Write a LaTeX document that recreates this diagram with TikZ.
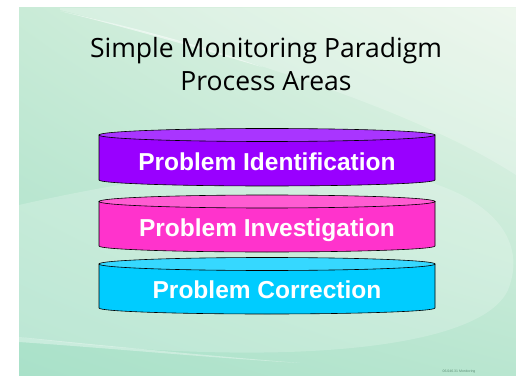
\documentclass[tikz,border=0pt]{standalone}
\usepackage{fontspec}
\setmainfont{Liberation Sans}
\newfontfamily\titlefont{Open Sans}
\usetikzlibrary{positioning, shadings}

\definecolor{slidedark}{HTML}{A9E1C9}
\definecolor{slidelight}{HTML}{E9F5E9}
\definecolor{slidemidA}{HTML}{C9EBD7}
\definecolor{slidemidB}{HTML}{B9E6D0}
\definecolor{idbody}{HTML}{9900FF}
\definecolor{idtop}{HTML}{A935FF}
\definecolor{invbody}{HTML}{FF33CC}
\definecolor{invtop}{HTML}{FF5CD2}
\definecolor{corbody}{HTML}{00CCFF}
\definecolor{cortop}{HTML}{36D8FF}
\definecolor{footgray}{HTML}{5E8E76}

\begin{document}
\begin{tikzpicture}[
    x=1pt, y=1pt,
    % disk outline
    diskline/.style={
        draw=black,
        line width=0.6pt
    },
    % white label on a disk
    disklabel/.style={
        anchor=base,
        text=white,
        font=\fontsize{24.5}{26}\selectfont\bfseries,
        inner sep=0pt
    },
    titletext/.style={
        anchor=base,
        font=\titlefont\fontsize{26.5}{28}\selectfont,
        inner sep=0pt
    },
    swoosh/.style={
        fill=white,
        draw=none
    }
]
\useasboundingbox (0,0) rectangle (516,375);

% === Slide background ===
\fill[white] (0,0) rectangle (516,375);
\shade[lower left=slidedark, upper right=slidelight,
       upper left=slidemidA, lower right=slidemidB] (19,0) rectangle (516,367);

% swooshes
\fill[swoosh, opacity=0.22] (60,365) .. controls (250,318) and (420,262) .. (516,200) -- (516,367) -- (60,367) -- cycle;
\fill[swoosh, opacity=0.55] (60,364) .. controls (140,346) and (200,330) .. (262,308) .. controls (200,326) and (140,344) .. (60,364) -- cycle;
\fill[swoosh, opacity=0.2] (19,38) .. controls (250,8) and (478,20) .. (508,85) .. controls (528,135) and (490,172) .. (438,190) .. controls (350,230) and (150,200) .. (19,170) -- cycle;
\fill[swoosh, opacity=0.35] (19,38) .. controls (120,28) and (200,20) .. (300,12) .. controls (200,18) and (120,26) .. (19,33) -- cycle;

% === Title ===
\node[titletext] (titleline) at (266,317) {Simple Monitoring Paradigm};
\node[titletext] (subtitle) at (266,284) {Process Areas};

% === Disk 1: identification ===
\draw[diskline, fill=idbody] (99,240) -- (99,195) arc[start angle=180, end angle=360, x radius=168pt, y radius=6pt] -- (435,240) -- cycle;
\draw[diskline, fill=idtop] (267,240) ellipse[x radius=168pt, y radius=6.5pt];
\node[disklabel] (identification) at (267,204) {Problem Identification};

% === Disk 2: investigation ===
\draw[diskline, fill=invbody] (99,173.5) -- (99,129) arc[start angle=180, end angle=360, x radius=168pt, y radius=6pt] -- (435,173.5) -- cycle;
\draw[diskline, fill=invtop] (267,173.5) ellipse[x radius=168pt, y radius=6.5pt];
\node[disklabel] (investigation) at (267,139) {Problem Investigation};

% === Disk 3: correction ===
\draw[diskline, fill=corbody] (99,111) -- (99,67) arc[start angle=180, end angle=360, x radius=168pt, y radius=6pt] -- (435,111) -- cycle;
\draw[diskline, fill=cortop] (267,111) ellipse[x radius=168pt, y radius=6.5pt];
\node[disklabel] (correction) at (267,77) {Problem Correction};

% === Footer ===
\node[font=\fontsize{3.5}{4}\selectfont, text=footgray, inner sep=0pt] (footer) at (459,3) {06.046.31 Monitoring};

\end{tikzpicture}
\end{document}
